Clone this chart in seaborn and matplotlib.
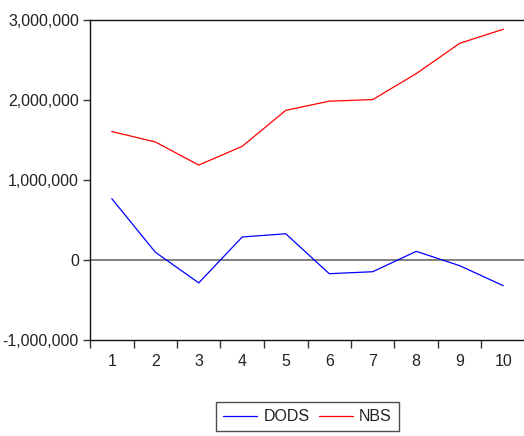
import matplotlib
matplotlib.use("Agg")
import matplotlib.pyplot as plt
import seaborn as sns
import pandas as pd
from matplotlib.ticker import FuncFormatter, FixedLocator
from matplotlib.lines import Line2D

periods = [1, 2, 3, 4, 5, 6, 7, 8, 9, 10]
dods = [770000, 100000, -285000, 290000, 330000, -170000, -145000, 110000, -70000, -320000]
nbs = [1610000, 1480000, 1190000, 1425000, 1875000, 1990000, 2010000, 2335000, 2715000, 2890000]
series_names = ["DODS", "NBS"]
colors = ["#0000ff", "#ff0000"]

df = pd.DataFrame({
    "period": periods * 2,
    "value": dods + nbs,
    "series": [series_names[0]] * len(periods) + [series_names[1]] * len(periods),
})

sns.set_style("white")
plt.rcParams["font.family"] = ["Liberation Sans", "DejaVu Sans"]

fig = plt.figure(figsize=(5.24, 4.36), dpi=100)
ax = fig.add_axes([90 / 524, 1 - 340 / 436, (525 - 90) / 524, (340 - 20.5) / 436])

sns.lineplot(data=df, x="period", y="value", hue="series", palette=colors,
             linewidth=0.9, ax=ax, legend=False)

ax.axhline(0, color="#6a6a6a", linewidth=1.2, zorder=0)

ax.set_xlim(0.5, 10.5)
ax.set_ylim(-1000000, 3000000)
ax.set_xlabel("")
ax.set_ylabel("")

ax.xaxis.set_major_locator(FixedLocator(periods))
ax.xaxis.set_minor_locator(FixedLocator([p - 0.5 for p in periods] + [10.5]))
ax.set_yticks([-1000000, 0, 1000000, 2000000, 3000000])
ax.yaxis.set_major_formatter(FuncFormatter(lambda v, p: f"{int(v):,}"))

ax.tick_params(axis="x", which="major", length=0, pad=10, labelsize=11.5, labelcolor="#222222")
ax.tick_params(axis="x", which="minor", length=6, width=1, color="#333333", direction="out", bottom=True)
ax.tick_params(axis="y", which="major", length=5, width=1, color="#333333", direction="out",
               left=True, pad=3, labelsize=11.5, labelcolor="#222222")

for s in ax.spines.values():
    s.set_color("#111111")
    s.set_linewidth(1.0)
ax.spines["right"].set_visible(False)

handles = [Line2D([0], [0], color=c, linewidth=0.9) for c in colors]
leg = fig.legend(handles, series_names, loc="upper center", bbox_to_anchor=(307.5 / 524, 1 - 402 / 436),
                 ncol=2, frameon=True, fancybox=False, fontsize=11.5, handlelength=2.1,
                 columnspacing=0.6, handletextpad=0.4, borderpad=0.45, borderaxespad=0)
leg.get_frame().set_edgecolor("#222222")
leg.get_frame().set_linewidth(1.0)
for t in leg.get_texts():
    t.set_color("#222222")

fig.savefig("out.png", dpi=100)
